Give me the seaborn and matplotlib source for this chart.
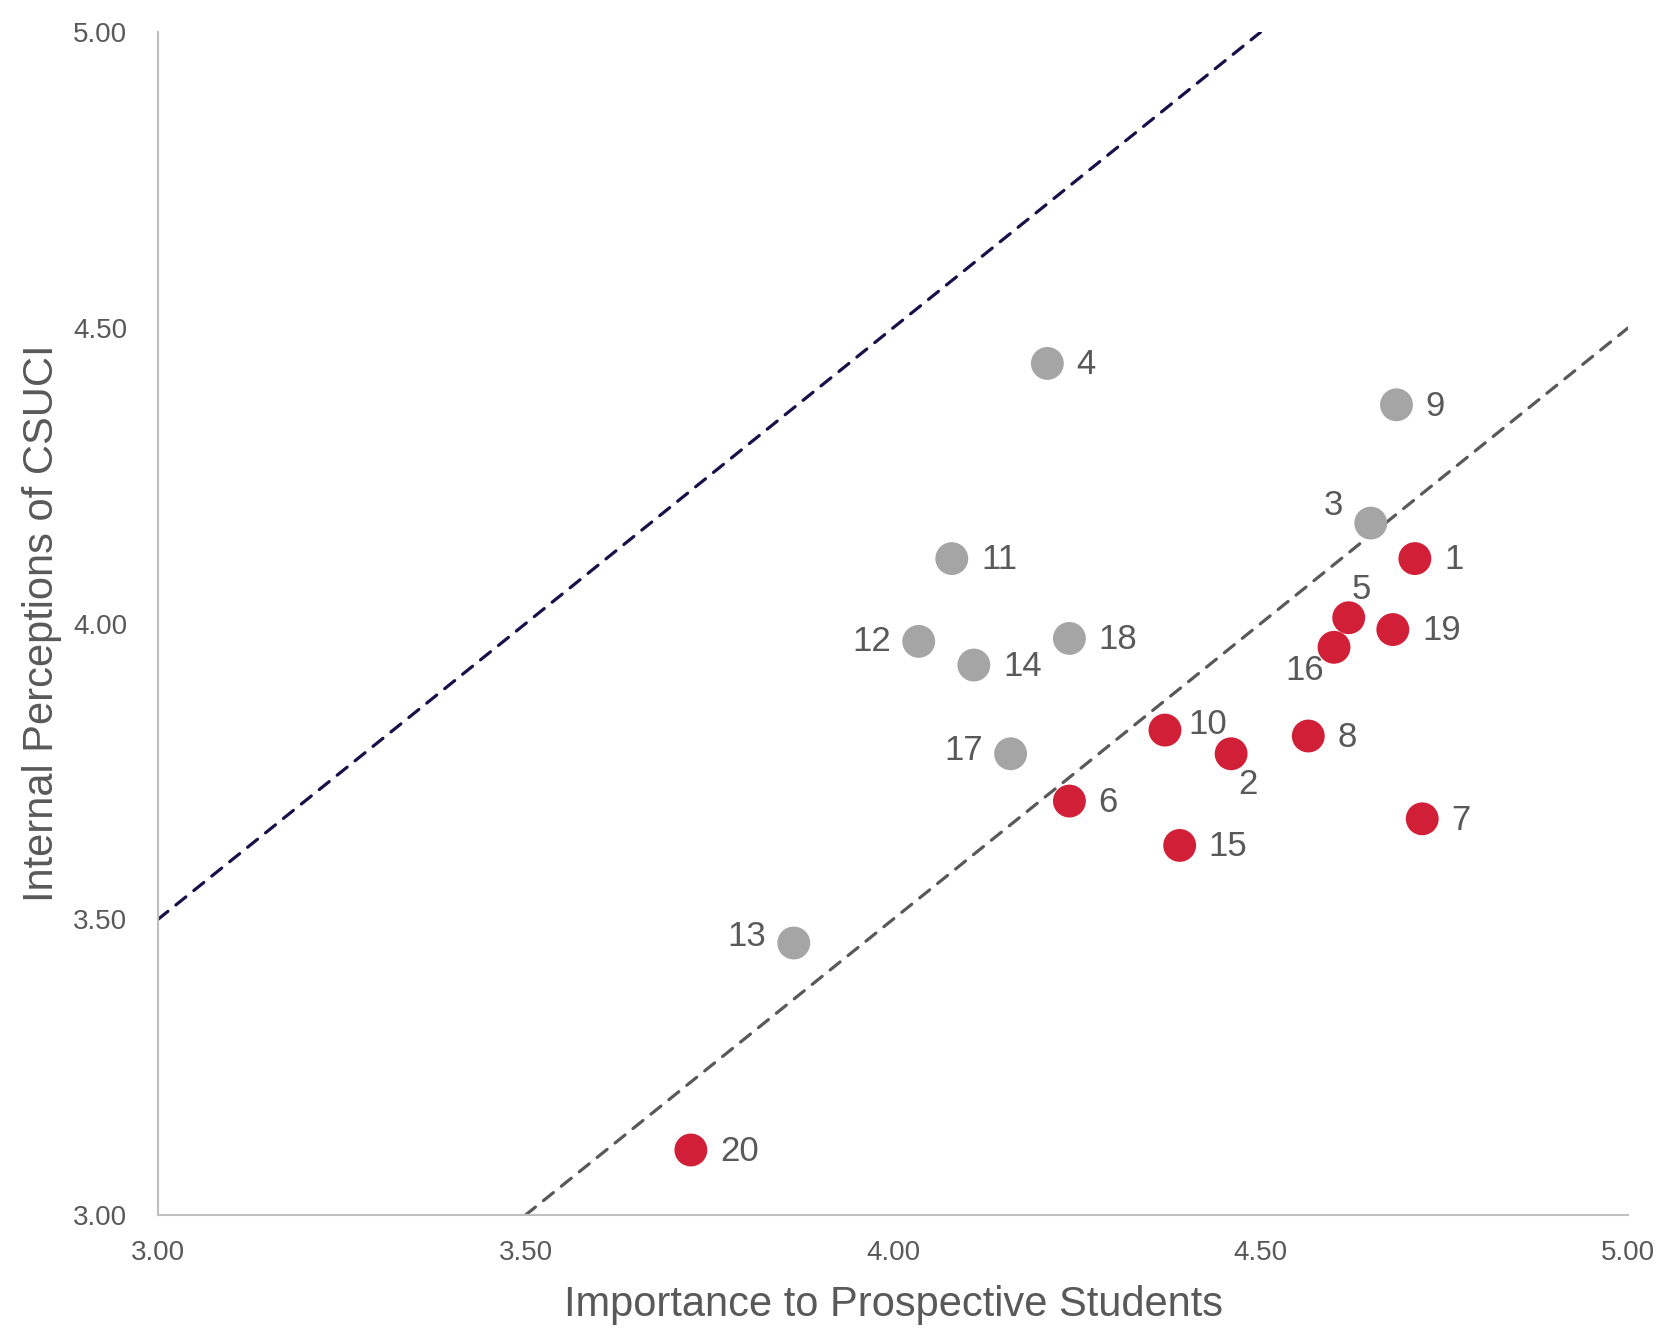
import matplotlib
matplotlib.use("Agg")
import matplotlib.pyplot as plt
import seaborn as sns
import pandas as pd

# Attribute ids, importance (x), internal perception (y), group
ids = [1, 2, 3, 4, 5, 6, 7, 8, 9, 10, 11, 12, 13, 14, 15, 16, 17, 18, 19, 20]
importance = [4.71, 4.46, 4.65, 4.21, 4.62, 4.24, 4.72, 4.565, 4.685, 4.37,
              4.08, 4.035, 3.865, 4.11, 4.39, 4.60, 4.16, 4.24, 4.68, 3.725]
perception = [4.11, 3.78, 4.17, 4.44, 4.01, 3.70, 3.67, 3.81, 4.37, 3.82,
              4.11, 3.97, 3.46, 3.93, 3.625, 3.96, 3.78, 3.975, 3.99, 3.11]
group = ["gap", "gap", "ok", "ok", "gap", "gap", "gap", "gap", "ok", "gap",
         "ok", "ok", "ok", "ok", "gap", "gap", "ok", "ok", "gap", "gap"]

# label offsets in points (dx, dy, ha)
label_pos = {
    3: (-20, 13, "right"), 5: (9, 20, "center"), 16: (-21, -17, "center"),
    12: (-20, 0, "right"), 17: (-20, 2, "right"), 13: (-20, 5, "right"),
    10: (17, 4, "left"), 2: (12, -22, "center"),
}

# reference lines
upper_x = [3.0, 4.5]
upper_y = [3.5, 5.0]
lower_x = [3.5, 5.0]
lower_y = [3.0, 4.5]

df = pd.DataFrame({"id": ids, "x": importance, "y": perception, "group": group})

sns.set_style("white")
plt.rcParams["font.family"] = ["Liberation Sans", "DejaVu Sans"]
text_color = "#595959"

fig = plt.figure(figsize=(16.77, 13.32), dpi=100)
ax = fig.add_axes([0.0942, 0.0878, 0.8766, 0.888])

sns.lineplot(x=upper_x, y=upper_y, ax=ax, color="#1B0F4A", lw=2.3,
             linestyle=(0, (4, 3.2)), dash_capstyle="round")
sns.lineplot(x=lower_x, y=lower_y, ax=ax, color="#595959", lw=2.3,
             linestyle=(0, (4, 3.2)), dash_capstyle="round")

sns.scatterplot(data=df, x="x", y="y", hue="group",
                palette={"gap": "#D21F38", "ok": "#A5A5A5"},
                s=560, edgecolor="none", legend=False, ax=ax, zorder=3)

for i, xv, yv in zip(ids, importance, perception):
    dx, dy, ha = label_pos.get(i, (21, -1, "left"))
    ax.annotate(str(i), (xv, yv), xytext=(dx, dy), textcoords="offset points",
                ha=ha, va="center", fontsize=25, color=text_color)

ax.set_xlim(3, 5)
ax.set_ylim(3, 5)
ticks = [3.0, 3.5, 4.0, 4.5, 5.0]
ax.set_xticks(ticks)
ax.set_yticks(ticks)
ax.set_xticklabels([f"{t:.2f}" for t in ticks])
ax.set_yticklabels([f"{t:.2f}" for t in ticks])
ax.tick_params(axis="both", labelsize=20, colors=text_color, length=0)
ax.tick_params(axis="x", pad=18)
ax.tick_params(axis="y", pad=22)

ax.set_xlabel("Importance to Prospective Students", fontsize=30, color=text_color, labelpad=14)
ax.set_ylabel("Internal Perceptions of CSUCI", fontsize=30, color=text_color, labelpad=8)

for side in ["top", "right"]:
    ax.spines[side].set_visible(False)
for side in ["left", "bottom"]:
    ax.spines[side].set_color("#BFBFBF")
    ax.spines[side].set_linewidth(1.5)

fig.savefig("out.png", dpi=100)
